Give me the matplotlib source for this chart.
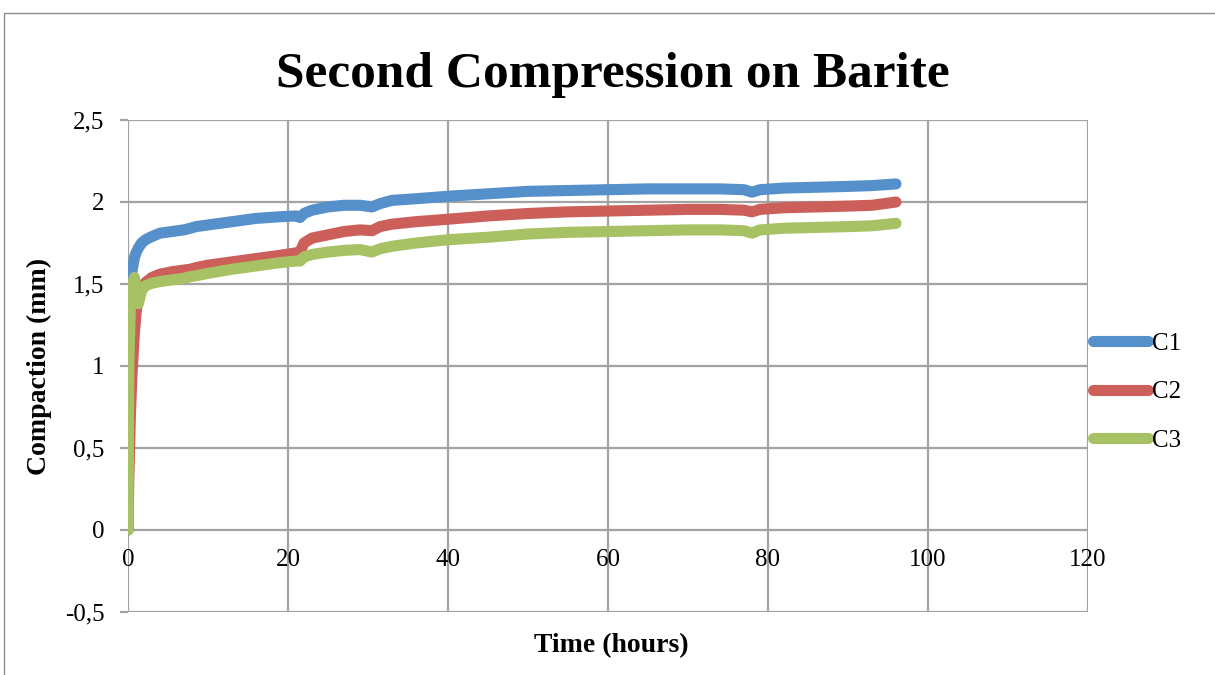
import matplotlib
matplotlib.use("Agg")
import matplotlib.pyplot as plt
from matplotlib.patches import Rectangle

# Elapsed time (hours) and compaction (mm) for the three cells
time_h = [0, 0.1, 0.3, 0.5, 0.8, 1.0, 1.3, 1.7, 2.2, 3, 4, 5.5, 7, 7.8, 8.5, 10,
          13, 16, 19, 21, 21.5, 22, 23, 25, 27, 29, 30.5, 31.5, 33, 36, 40, 45,
          50, 55, 60, 65, 70, 74, 77, 78, 79, 82, 86, 90, 93, 96]

c1 = [0, 1.20, 1.45, 1.58, 1.66, 1.69, 1.72, 1.75, 1.77, 1.79, 1.81, 1.82, 1.83,
      1.84, 1.85, 1.86, 1.88, 1.90, 1.91, 1.915, 1.905, 1.93, 1.95, 1.97, 1.98,
      1.98, 1.97, 1.99, 2.01, 2.02, 2.035, 2.05, 2.065, 2.07, 2.075, 2.08, 2.08,
      2.08, 2.075, 2.06, 2.075, 2.085, 2.09, 2.095, 2.10, 2.11]

c2 = [0, 0.30, 0.70, 0.95, 1.20, 1.32, 1.43, 1.48, 1.51, 1.54, 1.56, 1.575, 1.585,
      1.59, 1.60, 1.615, 1.635, 1.655, 1.675, 1.69, 1.695, 1.75, 1.78, 1.80, 1.82,
      1.83, 1.825, 1.85, 1.865, 1.88, 1.895, 1.915, 1.93, 1.94, 1.945, 1.95, 1.955,
      1.955, 1.95, 1.94, 1.955, 1.965, 1.97, 1.975, 1.98, 2.00]

c3 = [0, 1.00, 1.38, 1.48, 1.54, 1.48, 1.38, 1.46, 1.49, 1.505, 1.515, 1.525, 1.535,
      1.545, 1.55, 1.565, 1.59, 1.61, 1.63, 1.64, 1.64, 1.665, 1.68, 1.695, 1.705,
      1.71, 1.695, 1.715, 1.73, 1.75, 1.77, 1.785, 1.805, 1.815, 1.82, 1.825, 1.83,
      1.83, 1.825, 1.81, 1.83, 1.84, 1.845, 1.85, 1.855, 1.87]

series_names = ["C1", "C2", "C3"]
series_colors = ["#5690CB", "#CC5F59", "#A6C264"]

x_ticks = [0, 20, 40, 60, 80, 100, 120]
y_ticks = [-0.5, 0, 0.5, 1, 1.5, 2, 2.5]
y_tick_labels = ["-0,5", "0", "0,5", "1", "1,5", "2", "2,5"]

plt.rcParams["font.family"] = ["Liberation Serif", "DejaVu Serif"]

fig = plt.figure(figsize=(12.15, 6.75), dpi=100)
fig.patch.set_facecolor("white")

# outer chart frame
fig.add_artist(Rectangle((4 / 1215, -0.1), 1.2, 1.1 - 13 / 675,
                         transform=fig.transFigure, fill=False,
                         edgecolor="#8C8C8C", linewidth=1.0, clip_on=False))

ax = fig.add_axes([128 / 1215, 1 - 612 / 675, (1088 - 128) / 1215, (612 - 120) / 675])
ax.set_xlim(0, 120)
ax.set_ylim(-0.5, 2.5)

grid_color = "#A3A3A3"
ax.set_xticks(x_ticks)
ax.set_yticks(y_ticks)
ax.set_yticklabels(y_tick_labels)
ax.grid(True, color=grid_color, linewidth=1.6, zorder=0)
ax.set_axisbelow(True)

for name in ["top", "right", "left", "bottom"]:
    ax.spines[name].set_visible(False)
ax.spines["bottom"].set_position(("data", 0))

ax.tick_params(axis="y", direction="out", length=6, width=1.6, color=grid_color,
               pad=11, labelsize=18)
ax.tick_params(axis="x", length=0, pad=14, labelsize=18)

for vals, name, col in zip([c1, c2, c3], series_names, series_colors):
    ax.plot(time_h, vals, color=col, linewidth=8, solid_capstyle="round",
            solid_joinstyle="round", label=name, zorder=3)

fig.text(613 / 1215, 1 - 87 / 675, "Second Compression on Barite",
         ha="center", va="baseline", fontsize=37, fontweight="bold")
fig.text(39 / 1215, 1 - 366 / 675, "Compaction (mm)", rotation=90,
         ha="center", va="center", fontsize=20, fontweight="bold")
fig.text(611 / 1215, 1 - 646 / 675, "Time (hours)",
         ha="center", va="center", fontsize=20, fontweight="bold")

leg = fig.legend(loc="center left", bbox_to_anchor=(1093 / 1215, 1 - 392 / 675),
                 frameon=False, fontsize=18, handlelength=2.2, handletextpad=0.15,
                 labelspacing=1.05, borderpad=0, borderaxespad=0)

fig.savefig("out.png", dpi=100, facecolor="white")
